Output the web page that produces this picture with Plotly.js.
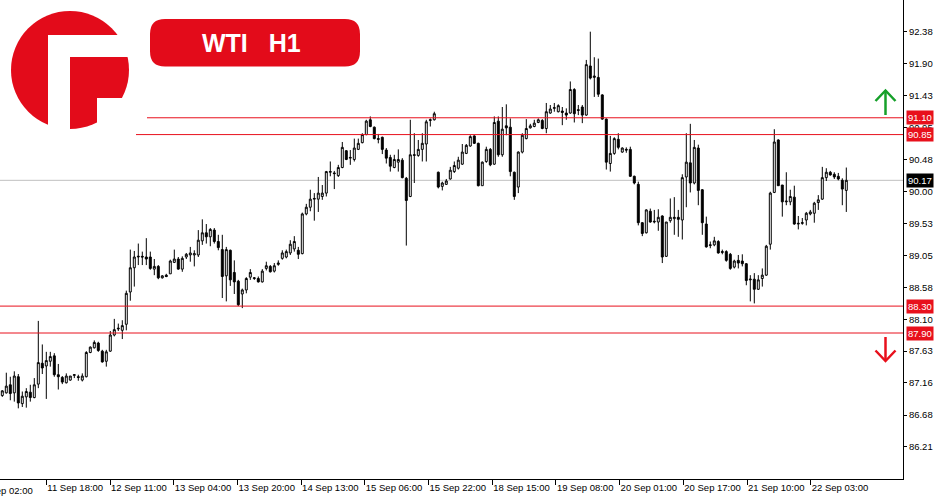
<!DOCTYPE html>
<html>
<head>
<meta charset="utf-8">
<script src="https://cdn.plot.ly/plotly-3.0.1.min.js"></script>
<style>html,body{margin:0;padding:0;background:#fff;}#chart{width:950px;height:500px;}</style>
</head>
<body>
<div id="chart"></div>
<script>
// ---- Data (WTI H1 candles) ----
const openP = [
86.97,87.01,87.13,87.01,87.25,86.85,86.95,87.02,86.94,87.14,
87.45,87.41,87.48,87.56,87.28,87.24,87.16,87.20,87.27,87.25,
87.20,87.25,87.61,87.68,87.75,87.63,87.48,87.63,87.87,87.96,
87.94,88.03,88.51,88.87,89.03,89.04,89.03,89.03,88.85,88.89,
88.72,88.76,88.78,88.95,89.00,88.85,89.03,89.06,89.06,89.06,
89.27,89.39,89.33,89.43,89.26,89.14,88.75,89.13,88.80,88.67,
88.48,88.54,88.73,88.71,88.71,88.66,88.86,88.89,88.82,88.92,
89.01,89.03,89.09,89.15,89.13,89.08,89.67,89.77,89.89,89.89,
89.93,89.98,90.29,90.28,90.24,90.36,90.61,90.50,90.48,90.63,
90.73,90.85,91.07,90.96,90.79,90.81,90.62,90.51,90.36,90.44,
90.47,90.20,89.93,90.54,90.54,90.63,90.71,91.06,91.07,90.29,
90.08,90.11,90.19,90.30,90.35,90.41,90.57,90.68,90.83,90.72,
90.09,90.45,90.63,90.41,91.05,90.55,90.98,90.96,90.29,90.07,
90.59,90.79,90.95,90.97,91.03,91.06,90.94,91.17,91.24,91.19,
91.20,91.17,91.17,91.52,91.22,91.26,91.14,91.87,91.70,91.70,
91.44,91.08,90.42,90.57,90.78,90.59,90.63,90.63,90.23,90.11,
89.54,89.39,89.71,89.55,89.55,89.64,89.04,89.57,89.60,89.62,
89.58,90.22,90.43,90.13,90.65,90.03,89.52,89.20,89.21,89.26,
89.11,89.11,89.07,88.88,88.98,88.97,88.93,88.69,88.70,88.55,
88.71,88.76,89.22,89.99,90.77,90.10,89.85,89.85,89.92,89.52,
89.53,89.58,89.67,89.68,89.84,89.89,90.21,90.29,90.26,90.23,
90.17,90.02];
const highP = [
87.05,87.31,87.25,87.33,87.29,87.03,87.08,87.13,87.23,88.08,
87.73,87.62,87.62,87.60,87.44,87.26,87.30,87.26,87.29,87.28,
87.30,87.63,87.70,87.79,87.77,87.65,87.65,87.93,88.11,88.04,
88.09,88.53,89.14,89.12,89.23,89.11,89.31,89.11,89.00,88.91,
88.76,88.78,88.99,89.14,89.03,89.04,89.09,89.18,89.13,89.43,
89.59,89.52,89.46,89.46,89.36,89.36,89.18,89.14,88.98,88.69,
88.56,88.73,88.85,88.73,88.74,88.85,88.96,88.91,88.94,88.98,
89.13,89.14,89.28,89.34,89.18,89.69,89.82,90.03,89.98,90.22,
90.10,90.31,90.45,90.31,90.40,90.74,90.62,90.62,90.79,90.79,
90.87,91.07,91.12,90.97,90.86,90.82,90.65,90.55,90.55,90.63,
90.50,90.22,91.07,90.87,90.77,90.87,91.07,91.09,91.19,90.30,
90.15,90.19,90.37,90.45,90.52,90.71,90.71,90.84,90.84,90.73,
90.45,90.67,90.65,91.12,91.12,91.26,91.30,91.09,90.30,90.60,
90.87,91.08,91.01,91.07,91.09,91.08,91.32,91.29,91.32,91.30,
91.26,91.24,91.64,91.54,91.29,91.29,91.96,92.38,92.00,91.98,
91.45,91.09,90.83,90.81,90.87,90.66,90.66,90.67,90.24,90.15,
89.55,89.74,89.75,89.73,89.74,89.65,89.55,89.90,89.92,89.73,
90.26,90.87,91.01,90.77,90.70,90.04,89.63,89.26,89.33,89.28,
89.14,89.13,89.09,88.99,89.06,89.07,88.94,88.76,88.79,88.76,
88.86,89.21,90.00,90.93,90.78,90.10,90.29,90.03,90.09,89.64,
89.61,89.70,89.73,89.85,89.95,90.37,90.35,90.31,90.29,90.28,
90.20,90.36];
const lowP = [
86.95,87.00,86.90,86.88,86.78,86.80,86.79,86.88,86.93,87.08,
87.29,86.92,87.40,87.25,87.06,87.14,87.15,87.19,87.23,87.19,
87.18,87.24,87.60,87.67,87.62,87.46,87.40,87.62,87.85,87.93,
87.81,87.94,88.38,88.59,88.91,88.91,88.91,88.84,88.76,88.70,
88.71,88.73,88.78,88.94,88.84,88.81,89.00,88.96,88.89,89.03,
89.21,89.23,89.19,89.23,89.13,88.42,88.37,88.60,88.48,88.30,
88.27,88.49,88.69,88.69,88.65,88.65,88.83,88.80,88.80,88.90,
88.99,89.01,89.06,89.11,89.00,89.07,89.65,89.71,89.57,89.70,
89.88,89.93,90.23,90.04,90.22,90.35,90.47,90.40,90.45,90.62,
90.72,90.84,90.96,90.78,90.72,90.56,90.42,90.30,90.35,90.30,
90.20,89.20,89.92,90.13,90.52,90.45,90.45,90.97,91.06,90.05,
90.02,90.10,90.18,90.28,90.33,90.40,90.56,90.67,90.71,90.08,
90.09,90.43,90.38,90.40,90.52,90.52,90.84,90.23,89.88,89.98,
90.57,90.78,90.94,90.96,91.02,90.93,90.87,91.16,91.19,91.18,
90.99,91.07,91.16,91.03,91.14,91.02,91.13,91.67,91.41,91.41,
91.07,90.33,90.30,90.55,90.63,90.58,90.58,90.22,90.11,89.50,
89.34,89.38,89.54,89.53,89.42,88.94,89.03,89.54,89.36,89.33,
89.29,89.77,89.99,90.11,89.80,89.36,89.17,89.16,89.19,89.08,
89.07,88.96,88.84,88.86,88.86,88.89,88.61,88.37,88.34,88.54,
88.59,88.75,89.14,89.98,90.09,89.63,89.80,89.80,89.51,89.44,
89.51,89.50,89.65,89.54,89.73,89.88,90.16,90.24,90.19,90.17,
89.80,89.70];
const closeP = [
87.04,87.11,87.00,87.26,86.86,86.96,87.03,86.94,87.13,87.46,
87.38,87.49,87.55,87.28,87.25,87.17,87.26,87.26,87.28,87.24,
87.26,87.61,87.69,87.76,87.64,87.47,87.62,87.87,87.95,87.97,
88.01,88.49,88.87,89.03,89.04,89.03,89.00,88.86,88.89,88.72,
88.75,88.74,88.97,89.00,88.85,89.01,89.07,89.09,89.08,89.28,
89.39,89.33,89.44,89.26,89.17,88.74,89.14,88.69,88.66,88.32,
88.54,88.71,88.80,88.72,88.66,88.82,88.90,88.81,88.90,88.94,
89.09,89.11,89.22,89.26,89.07,89.67,89.77,89.89,89.90,89.98,
89.98,90.30,90.30,90.27,90.36,90.66,90.48,90.51,90.65,90.72,
90.85,91.05,90.97,90.79,90.78,90.63,90.50,90.38,90.48,90.48,
90.21,89.87,90.55,90.55,90.63,90.72,91.04,91.07,91.16,90.07,
90.13,90.16,90.32,90.39,90.47,90.59,90.69,90.82,90.72,90.09,
90.44,90.63,90.40,91.03,90.55,90.93,90.95,90.30,89.93,90.59,
90.84,90.94,90.98,91.02,91.07,90.94,91.19,91.23,91.25,91.28,
91.18,91.14,91.52,91.16,91.21,91.14,91.89,91.69,91.72,91.45,
91.08,90.44,90.57,90.79,90.66,90.65,90.62,90.23,90.13,89.54,
89.38,89.73,89.55,89.56,89.62,89.03,89.55,89.62,89.62,89.59,
90.21,90.44,90.13,90.66,90.02,89.54,89.18,89.21,89.27,89.09,
89.10,88.98,88.86,88.97,88.94,88.93,88.68,88.70,88.55,88.69,
88.76,89.19,89.98,90.74,90.09,89.85,89.86,89.93,89.52,89.53,
89.54,89.68,89.70,89.83,89.88,90.21,90.29,90.25,90.22,90.19,
90.04,90.17];

const timeLabels = ["11 Sep 02:00","11 Sep 18:00","12 Sep 11:00","13 Sep 04:00","13 Sep 20:00","14 Sep 13:00","15 Sep 06:00","15 Sep 22:00","18 Sep 15:00","19 Sep 08:00","20 Sep 01:00","20 Sep 17:00","21 Sep 10:00","22 Sep 03:00"];
const priceTicks = [92.38,91.90,91.43,90.95,90.48,90.00,89.53,89.05,88.58,88.10,87.63,87.16,86.68,86.21];
const levelPrices = [91.10, 90.85, 88.30, 87.90];
const bidPrice = 90.17;
const titleText = "WTI\u00a0\u00a0\u00a0H1";

// ---- Layout helpers ----
const W = 903, H = 479;            // plot area in pixels
const px = x => x / W;
const py = y => 1 - y / H;
const barIdx = openP.map((_, i) => i);
const tickStep = 15.925, firstTick = 11 - tickStep;
const tickVals = timeLabels.map((_, j) => firstTick + j * tickStep);
const RED = '#e8101c';
const FONT = 'Liberation Sans, Arial, sans-serif';

const trace = {
  type: 'candlestick',
  x: barIdx, open: openP, high: highP, low: lowP, close: closeP,
  increasing: {line: {color: '#000', width: 1}, fillcolor: '#ffffff'},
  decreasing: {line: {color: '#000', width: 1}, fillcolor: '#000000'},
  whiskerwidth: 0, showlegend: false, hoverinfo: 'skip'
};

function rr(x0, y0, x1, y1, r) {
  const P = (x, y) => px(x) + ',' + py(y);
  return 'M' + P(x0 + r, y0) + ' L' + P(x1 - r, y0) + ' Q' + P(x1, y0) + ' ' + P(x1, y0 + r) +
    ' L' + P(x1, y1 - r) + ' Q' + P(x1, y1) + ' ' + P(x1 - r, y1) +
    ' L' + P(x0 + r, y1) + ' Q' + P(x0, y1) + ' ' + P(x0, y1 - r) +
    ' L' + P(x0, y0 + r) + ' Q' + P(x0, y0) + ' ' + P(x0 + r, y0) + ' Z';
}
function poly(pts) {
  return pts.map((p, i) => (i ? 'L' : 'M') + px(p[0]) + ',' + py(p[1])).join(' ');
}

const shapes = [];
// bid line
shapes.push({type: 'line', xref: 'paper', x0: 0, x1: 1, yref: 'y', y0: bidPrice, y1: bidPrice,
  line: {color: '#c0c0c0', width: 1}, layer: 'below'});
// level lines
const levelStartPx = [147, 133, 0, 0];
levelPrices.forEach((v, i) => shapes.push({type: 'line', xref: 'paper', x0: px(levelStartPx[i]), x1: 1,
  yref: 'y', y0: v, y1: v, line: {color: RED, width: 1}, layer: 'above'}));
// logo
const LOGO = '#e30b1a';
shapes.push({type: 'circle', xref: 'paper', yref: 'paper', x0: px(11), x1: px(129), y0: py(129), y1: py(11),
  fillcolor: LOGO, line: {width: 0}, layer: 'above'});
[[48, 35, 70, 136], [48, 35, 136, 57], [97, 98, 136, 136]].forEach(r => shapes.push({type: 'rect',
  xref: 'paper', yref: 'paper', x0: px(r[0]), x1: px(r[2]), y0: py(r[3]), y1: py(r[1]),
  fillcolor: '#ffffff', line: {width: 0}, layer: 'above'}));
// title box
shapes.push({type: 'path', xref: 'paper', yref: 'paper', path: rr(150, 19, 360, 66.5, 15),
  fillcolor: LOGO, line: {width: 0}, layer: 'above'});
// arrows
shapes.push({type: 'path', xref: 'paper', yref: 'paper', path: poly([[885.5, 115], [885.5, 90]]),
  line: {color: '#16a02a', width: 2.5}, layer: 'above'});
shapes.push({type: 'path', xref: 'paper', yref: 'paper', path: poly([[875.5, 101], [885.5, 90.5], [895.5, 101]]),
  line: {color: '#16a02a', width: 2.5}, layer: 'above'});
shapes.push({type: 'path', xref: 'paper', yref: 'paper', path: poly([[885.5, 337], [885.5, 361]]),
  line: {color: RED, width: 2.5}, layer: 'above'});
shapes.push({type: 'path', xref: 'paper', yref: 'paper', path: poly([[875.5, 350.5], [885.5, 361], [895.5, 350.5]]),
  line: {color: RED, width: 2.5}, layer: 'above'});

const annotations = [];
annotations.push({xref: 'paper', yref: 'paper', x: px(251), y: py(43), xanchor: 'center', yanchor: 'middle',
  text: '<b>' + titleText + '</b>', showarrow: false,
  font: {family: FONT, size: 25, color: '#ffffff'}});
levelPrices.forEach(v => annotations.push({xref: 'paper', x: 1, xanchor: 'left', xshift: 3, yref: 'y', y: v,
  yanchor: 'middle', text: v.toFixed(2), showarrow: false, bgcolor: RED, borderpad: 1,
  font: {family: FONT, size: 9.5, color: '#ffffff'}}));
annotations.push({xref: 'paper', x: 1, xanchor: 'left', xshift: 3, yref: 'y', y: bidPrice,
  yanchor: 'middle', text: bidPrice.toFixed(2), showarrow: false, bgcolor: '#000000', borderpad: 1,
  font: {family: FONT, size: 9.5, color: '#000000'.replace('000000', 'ffffff')}});
// first time label (its tick lies left of the visible area)
annotations.push({xref: 'paper', yref: 'paper', x: px(2.3 + 4 * tickVals[0] - 8), y: py(490), xanchor: 'left',
  yanchor: 'middle', text: timeLabels[0], showarrow: false, font: {family: FONT, size: 9.5, color: '#000'}});

const layout = {
  width: 950, height: 500,
  margin: {l: 0, r: 47, t: 0, b: 21, pad: 0},
  paper_bgcolor: '#ffffff', plot_bgcolor: '#ffffff',
  showlegend: false,
  font: {family: FONT, size: 9.5, color: '#000'},
  xaxis: {
    type: 'linear', range: [-2.3 / 4, -2.3 / 4 + W / 4],
    rangeslider: {visible: false},
    showgrid: false, zeroline: false, showline: true, linecolor: '#000', linewidth: 1,
    ticks: 'outside', ticklen: 5, tickcolor: '#000', tickwidth: 1, tickangle: 0,
    tickvals: tickVals, ticktext: timeLabels, ticklabelposition: 'outside right',
    tickfont: {family: FONT, size: 9.5, color: '#000'}, fixedrange: true
  },
  yaxis: {
    side: 'right', range: [92.851 - H / 67.26, 92.851],
    showgrid: false, zeroline: false, showline: true, linecolor: '#000', linewidth: 1,
    ticks: 'outside', ticklen: 3, tickcolor: '#000', tickwidth: 1,
    tickvals: priceTicks, ticktext: priceTicks.map(v => v.toFixed(2)),
    tickfont: {family: FONT, size: 9.5, color: '#000'}, fixedrange: true
  },
  shapes: shapes,
  annotations: annotations
};

Plotly.newPlot('chart', [trace], layout, {staticPlot: true, displayModeBar: false});
</script>
</body>
</html>
